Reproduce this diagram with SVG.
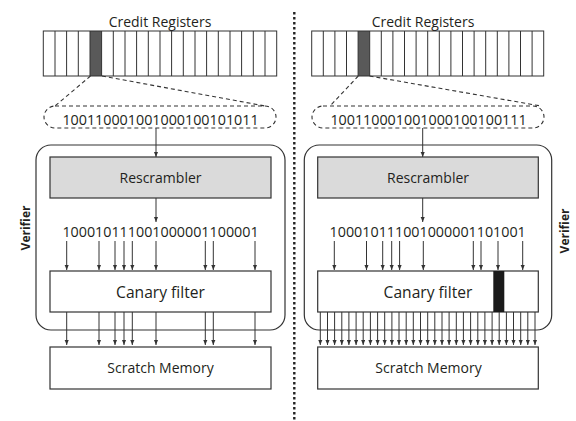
<svg xmlns="http://www.w3.org/2000/svg" width="576" height="421" viewBox="0 0 576 421">
<defs>
<marker id="ah" viewBox="0 0 10 10" refX="10" refY="5" markerWidth="5.5" markerHeight="4.5" markerUnits="userSpaceOnUse" orient="auto" preserveAspectRatio="none"><path d="M0,0 L10,5 L0,10 z" fill="#333"/></marker>
</defs>
<style>
text{font-family:"Open Sans","Liberation Sans",sans-serif;fill:#231f20;text-anchor:middle}
.box{fill:#fff;stroke:#333;stroke-width:1.2}
.gray{fill:#dadada;stroke:#333;stroke-width:1.2}
.ver{fill:none;stroke:#333;stroke-width:1.2}
.cells{fill:none;stroke:#333;stroke-width:1}
.dash{fill:none;stroke:#333;stroke-width:1.1;stroke-dasharray:4 3}
.arr{stroke:#333;stroke-width:1;fill:none;marker-end:url(#ah)}
.lbl{font-size:14px}
.bits{font-size:14.3px}
.vt{font-size:12px;font-weight:bold}
</style>
<rect width="576" height="421" fill="#fff"/>

<!-- divider -->
<line x1="294.3" y1="12" x2="294.3" y2="421" stroke="#222" stroke-width="2.4" stroke-dasharray="2.4 2.6"/>

<!-- LEFT -->
<g id="left-verifier"><rect class="ver" x="36" y="145" width="249" height="185" rx="15"/><text class="vt" transform="translate(30,228) rotate(-90)">Verifier</text></g>
<g id="left-credit-registers">
<text class="lbl" x="160" y="26.5">Credit Registers</text>
<rect x="90" y="31" width="11.6" height="45" fill="#595959"/>
<rect class="cells" x="43.3" y="31" width="233.4" height="45"/>
<path class="cells" d="M55,31V76M66.6,31V76M78.3,31V76M90,31V76M101.6,31V76M113.3,31V76M125,31V76M136.6,31V76M148.3,31V76M160,31V76M171.6,31V76M183.3,31V76M195,31V76M206.6,31V76M218.3,31V76M230,31V76M241.6,31V76M253.3,31V76M265,31V76"/>
</g>
<g id="left-register-bits"><rect class="dash" x="44" y="106" width="232" height="22" rx="11"/><text class="bits" x="160.5" y="124.5">100110001001000100101011</text></g>
<g id="left-rescrambler"><rect class="gray" x="50" y="157" width="221" height="41"/><text class="lbl" x="160.5" y="183">Rescrambler</text></g>
<g id="left-rescrambled-bits"><text class="bits" x="160.5" y="236.5">100010111001000001100001</text></g>
<g id="left-canary-filter"><rect class="box" x="50" y="271" width="221" height="41"/><text x="160.5" y="298" style="font-size:15.6px">Canary filter</text></g>
<g id="left-scratch-memory"><rect class="box" x="50" y="347" width="221" height="42"/><text class="lbl" x="160.5" y="373">Scratch Memory</text></g>

<!-- RIGHT -->
<g id="right-verifier"><rect class="ver" x="304.3" y="145" width="247.4" height="185" rx="15"/><text class="vt" transform="translate(569,231) rotate(-90)">Verifier</text></g>
<g id="right-credit-registers">
<text class="lbl" x="423" y="26.5">Credit Registers</text>
<rect x="358.1" y="31" width="11.6" height="45" fill="#595959"/>
<rect class="cells" x="311.7" y="31" width="232" height="45"/>
<path class="cells" d="M323.3,31V76M334.9,31V76M346.5,31V76M358.1,31V76M369.7,31V76M381.3,31V76M392.9,31V76M404.5,31V76M416.1,31V76M427.7,31V76M439.3,31V76M450.9,31V76M462.5,31V76M474.1,31V76M485.7,31V76M497.3,31V76M508.9,31V76M520.5,31V76M532.1,31V76"/>
</g>
<g id="right-register-bits"><rect class="dash" x="312" y="106" width="232" height="22" rx="11"/><text class="bits" x="428.5" y="124.5">100110001001000100100111</text></g>
<g id="right-rescrambler"><rect class="gray" x="317.7" y="157" width="220.6" height="41"/><text class="lbl" x="428" y="183">Rescrambler</text></g>
<g id="right-rescrambled-bits"><text class="bits" x="427.7" y="236.5">100010111001000001101001</text></g>
<g id="right-canary-filter"><rect class="box" x="317.7" y="271" width="220.6" height="41"/><rect x="493.3" y="271" width="11" height="41" fill="#1a1a1a"/><text x="428" y="298" style="font-size:15.6px">Canary filter</text></g>
<g id="right-scratch-memory"><rect class="box" x="317.7" y="347" width="220.6" height="42"/><text class="lbl" x="428.5" y="373">Scratch Memory</text></g>

<g id="connectors">
<path class="dash" d="M90.5,76L55,106M102,76L265,106M358.3,76L330,106M369.5,76L541,106"/>
<line class="arr" x1="156" y1="128" x2="156" y2="157"/>
<line class="arr" x1="156" y1="198" x2="156" y2="222"/>
<line class="arr" x1="422.7" y1="128" x2="422.7" y2="157"/>
<line class="arr" x1="422.7" y1="198" x2="422.7" y2="222"/>
<path class="arr" d="M66.7,241V270"/><path class="arr" d="M99,241V270"/><path class="arr" d="M115,241V270"/><path class="arr" d="M124,241V270"/><path class="arr" d="M132.3,241V270"/><path class="arr" d="M156,241V270"/><path class="arr" d="M205.3,241V270"/><path class="arr" d="M213.3,241V270"/><path class="arr" d="M255,241V270"/>
<path class="arr" d="M66.7,312V345"/><path class="arr" d="M99,312V345"/><path class="arr" d="M115,312V345"/><path class="arr" d="M124,312V345"/><path class="arr" d="M132.3,312V345"/><path class="arr" d="M156,312V345"/><path class="arr" d="M205.3,312V345"/><path class="arr" d="M213.3,312V345"/><path class="arr" d="M255,312V345"/>
<path class="arr" d="M334.3,241V270"/><path class="arr" d="M366.5,241V270"/><path class="arr" d="M382.7,241V270"/><path class="arr" d="M391.7,241V270"/><path class="arr" d="M399.6,241V270"/><path class="arr" d="M423.3,241V270"/><path class="arr" d="M473.3,241V270"/><path class="arr" d="M481,241V270"/><path class="arr" d="M498,241V270"/><path class="arr" d="M522.7,241V270"/>
<path class="arr" d="M320.3,312V345"/><path class="arr" d="M327.5,312V345"/><path class="arr" d="M334.6,312V345"/><path class="arr" d="M341.8,312V345"/><path class="arr" d="M348.9,312V345"/><path class="arr" d="M356.1,312V345"/><path class="arr" d="M363.2,312V345"/><path class="arr" d="M370.4,312V345"/><path class="arr" d="M377.6,312V345"/><path class="arr" d="M384.7,312V345"/><path class="arr" d="M391.9,312V345"/><path class="arr" d="M399,312V345"/><path class="arr" d="M406.2,312V345"/><path class="arr" d="M413.3,312V345"/><path class="arr" d="M420.5,312V345"/><path class="arr" d="M427.7,312V345"/><path class="arr" d="M434.8,312V345"/><path class="arr" d="M442,312V345"/><path class="arr" d="M449.1,312V345"/><path class="arr" d="M456.3,312V345"/><path class="arr" d="M463.4,312V345"/><path class="arr" d="M470.6,312V345"/><path class="arr" d="M477.8,312V345"/><path class="arr" d="M484.9,312V345"/><path class="arr" d="M492.1,312V345"/><path class="arr" d="M499.2,312V345"/><path class="arr" d="M506.4,312V345"/><path class="arr" d="M513.5,312V345"/><path class="arr" d="M520.7,312V345"/><path class="arr" d="M527.8,312V345"/><path class="arr" d="M535,312V345"/>
</g>
</svg>
